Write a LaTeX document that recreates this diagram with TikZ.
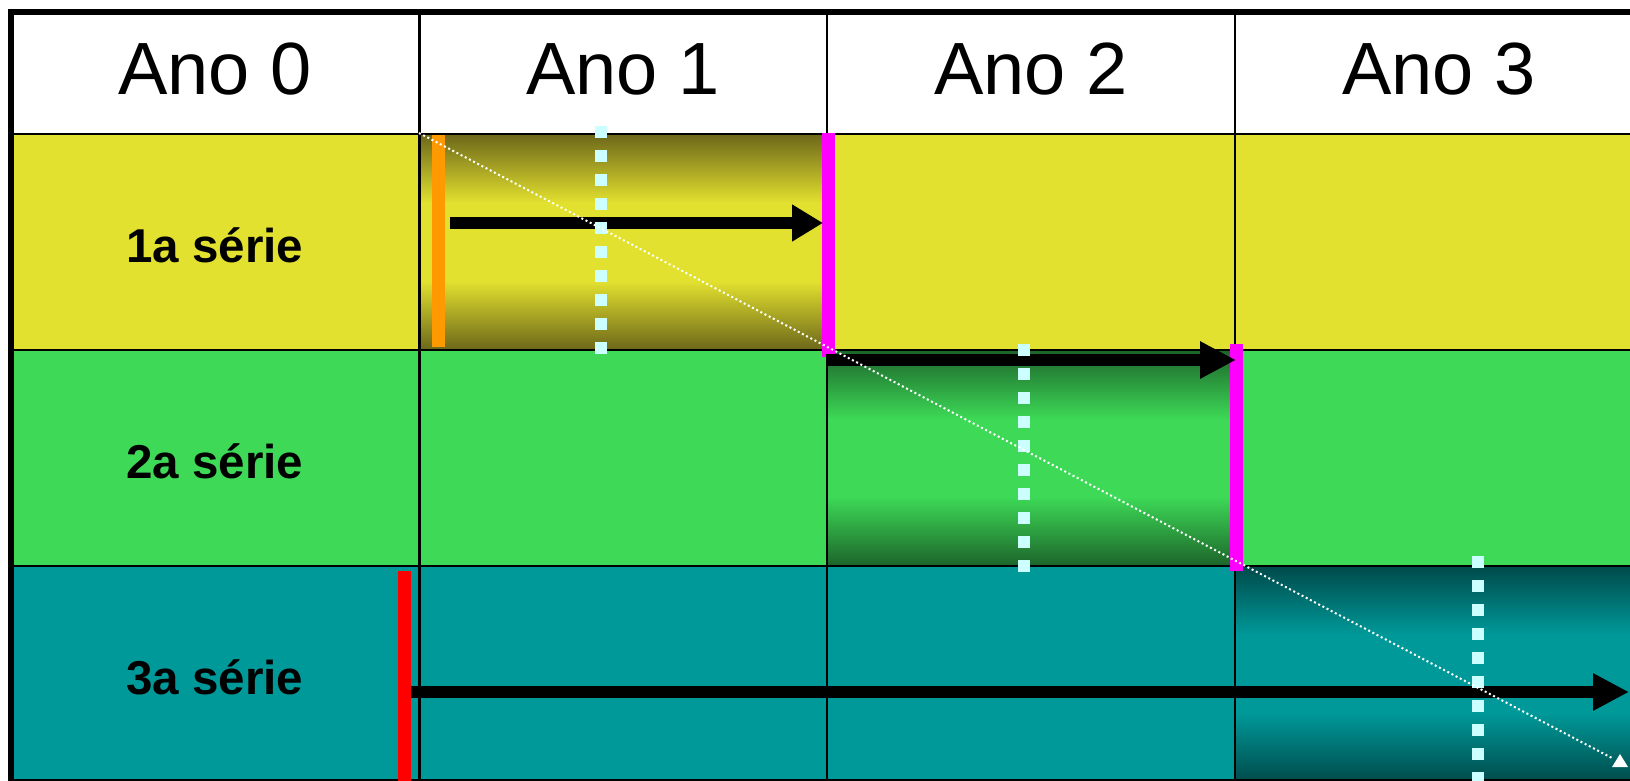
\documentclass[tikz,border=0pt]{standalone}
\usepackage{fontspec}
\setmainfont{Liberation Sans}
\usetikzlibrary{arrows.meta}
\definecolor{yel}{RGB}{227,225,47}
\definecolor{yeldk}{RGB}{108,103,26}
\definecolor{grn}{RGB}{61,217,87}
\definecolor{grndk}{RGB}{28,100,42}
\definecolor{tealc}{RGB}{0,153,153}
\definecolor{tealdk}{RGB}{0,74,74}
\definecolor{dashcyan}{RGB}{204,255,255}
\definecolor{mag}{RGB}{255,0,255}
\definecolor{orng}{RGB}{255,153,0}
\pgfdeclareverticalshading{yshade}{100bp}{color(0bp)=(yeldk); color(25bp)=(yeldk); color(41bp)=(yel); color(59bp)=(yel); color(75bp)=(yeldk); color(100bp)=(yeldk)}
\pgfdeclareverticalshading{gshade}{100bp}{color(0bp)=(grndk); color(25bp)=(grndk); color(41bp)=(grn); color(59bp)=(grn); color(75bp)=(grndk); color(100bp)=(grndk)}
\pgfdeclareverticalshading{tshade}{100bp}{color(0bp)=(tealdk); color(25bp)=(tealdk); color(41bp)=(tealc); color(59bp)=(tealc); color(75bp)=(tealdk); color(100bp)=(tealdk)}
\tikzset{
  grid/.style={line width=2.7pt, black},
  frame/.style={line width=6pt, black, line join=miter},
  yearlbl/.style={anchor=base, inner sep=0pt, font=\fontsize{74}{80}\selectfont},
  serielbl/.style={anchor=base, inner sep=0pt, font=\fontsize{47.5}{50}\selectfont\bfseries},
  bigarrow/.style={line width=12pt, black, -{Triangle[length=#1, width=35pt]}},
  bigarrow/.default=36pt,
  cydash/.style={line width=12pt, dashcyan, dash pattern=on 12pt off 12pt},
  diag/.style={white, line width=2pt, dash pattern=on 2pt off 2.7pt}
}
\begin{document}
\begin{tikzpicture}[x=1pt,y=-1pt]
\useasboundingbox (0,0) rectangle (1630,780);
\clip (0,0) rectangle (1630,780);
% backgrounds
\fill[white] (11,12) rectangle (1643,134);
\fill[yel] (11,134) rectangle (1643,350);
\fill[grn] (11,350) rectangle (1643,566);
\fill[tealc] (11,566) rectangle (1643,782);
% shaded boxes
\path[shading=yshade] (419,134) rectangle (827,350);
\path[shading=gshade] (827,350) rectangle (1235,566);
\path[shading=tshade] (1235,566) rectangle (1643,782);
% grid
\draw[grid] (419.5,12) -- (419.5,782);
\draw[grid] (827,12) -- (827,782);
\draw[grid] (1235,12) -- (1235,782);
\draw[grid] (11,134) -- (1643,134);
\draw[grid] (11,350) -- (1643,350);
\draw[grid] (11,566) -- (1643,566);
\draw[grid] (11,780) -- (1643,780);
\draw[frame] (11,782) -- (11,12) -- (1643,12);
% labels
\node[yearlbl] (y0) at (215,94) {Ano 0};
\node[yearlbl] (y1) at (623,94) {Ano 1};
\node[yearlbl] (y2) at (1031,94) {Ano 2};
\node[yearlbl] (y3) at (1439,94) {Ano 3};
\node[serielbl] (s1) at (215,262) {1a série};
\node[serielbl] (s2) at (215,478) {2a série};
\node[serielbl] (s3) at (215,694) {3a série};
% bars
\fill[orng] (432,135) rectangle (445,347);
\fill[mag] (822,133) rectangle (835,357);
\fill[mag] (1230,344) rectangle (1243,571);
\fill[red] (398,571) rectangle (411,782);
% arrows
\coordinate (a1s) at (450,223);
\coordinate (a1e) at (823,223);
\coordinate (a2s) at (826,360);
\coordinate (a2e) at (1236,360);
\coordinate (a3s) at (411,692);
\coordinate (a3e) at (1629,692);
\draw[bigarrow=31pt] (a1s) -- (a1e);
\draw[bigarrow] (a2s) -- (a2e);
\draw[bigarrow] (a3s) -- (a3e);
% cyan dashed lines
\coordinate (c1s) at (601,126); \coordinate (c1e) at (601,354);
\coordinate (c2s) at (1024,344); \coordinate (c2e) at (1024,572);
\coordinate (c3s) at (1478,556); \coordinate (c3e) at (1478,784);
\draw[cydash] (c1s) -- (c1e);
\draw[cydash] (c2s) -- (c2e);
\draw[cydash] (c3s) -- (c3e);
% diagonal dotted
\coordinate (ds) at (419,133);
\coordinate (de) at (1612,758);
\draw[diag] (ds) -- (de);
\fill[white] (1620,754) -- (1628,767) -- (1612,767) -- cycle;
\end{tikzpicture}
\end{document}
